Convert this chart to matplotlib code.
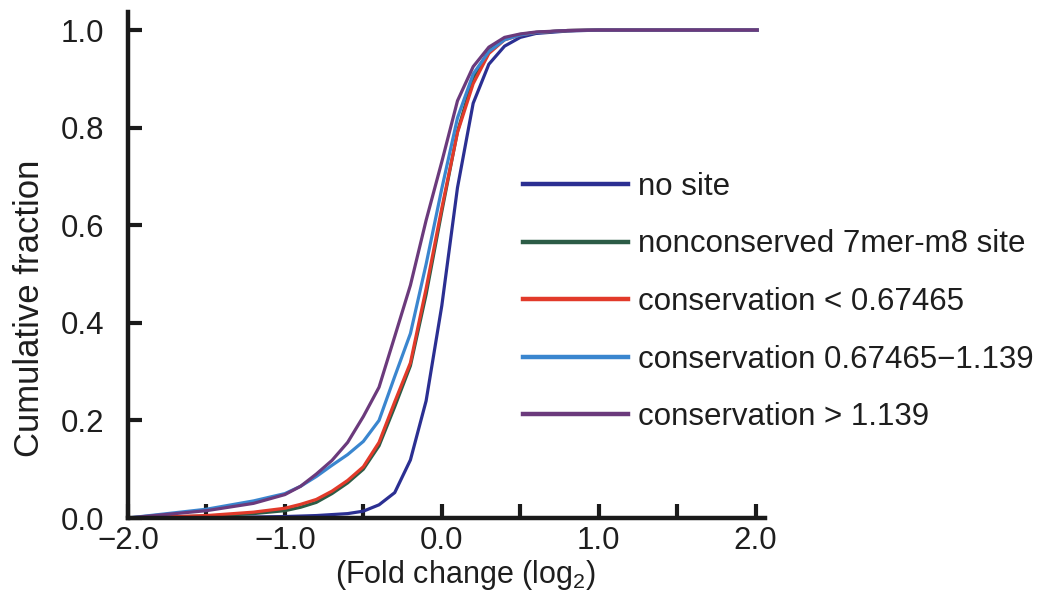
import matplotlib
matplotlib.use("Agg")
import matplotlib.pyplot as plt

x_vals = [-2.0, -1.5, -1.2, -1.0, -0.9, -0.8, -0.7, -0.6, -0.5, -0.4, -0.3, -0.2,
          -0.1, 0.0, 0.1, 0.2, 0.3, 0.4, 0.5, 0.6, 0.8, 1.0, 1.5, 2.01]

no_site = [0.0, 0.001, 0.002, 0.003, 0.004, 0.005, 0.007, 0.009, 0.014, 0.027, 0.052, 0.119,
           0.24, 0.435, 0.677, 0.85, 0.93, 0.967, 0.985, 0.993, 0.998, 1.0, 1.0, 1.0]
nonconserved = [0.0, 0.004, 0.009, 0.015, 0.022, 0.032, 0.05, 0.072, 0.1, 0.148, 0.228, 0.312,
                0.458, 0.628, 0.792, 0.902, 0.958, 0.982, 0.991, 0.995, 0.999, 1.0, 1.0, 1.0]
cons_low = [0.0, 0.005, 0.012, 0.02, 0.028, 0.038, 0.055, 0.077, 0.105, 0.155, 0.238, 0.318,
            0.47, 0.635, 0.79, 0.89, 0.952, 0.98, 0.99, 0.995, 0.999, 1.0, 1.0, 1.0]
cons_mid = [0.0, 0.018, 0.035, 0.05, 0.065, 0.085, 0.108, 0.13, 0.157, 0.2, 0.29, 0.378,
            0.52, 0.675, 0.82, 0.91, 0.956, 0.98, 0.99, 0.995, 0.999, 1.0, 1.0, 1.0]
cons_high = [0.0, 0.015, 0.03, 0.048, 0.065, 0.09, 0.118, 0.155, 0.208, 0.268, 0.372, 0.477,
             0.61, 0.73, 0.855, 0.925, 0.965, 0.985, 0.992, 0.996, 0.999, 1.0, 1.0, 1.0]

labels = ["no site", "nonconserved 7mer-m8 site", "conservation < 0.67465",
          "conservation 0.67465\u22121.139", "conservation > 1.139"]
series = [no_site, nonconserved, cons_low, cons_mid, cons_high]
colors = ["#2b2f92", "#2c5c46", "#e23a2a", "#3a86cf", "#6b3a7c"]

xticks = [-2.0, -1.0, 0.0, 1.0, 2.0]
xminor = [-1.5, -0.5, 0.5, 1.5]
yticks = [0.0, 0.2, 0.4, 0.6, 0.8, 1.0]

plt.rcParams["font.family"] = ["Liberation Sans", "DejaVu Sans"]
plt.rcParams["mathtext.fontset"] = "custom"
plt.rcParams["mathtext.rm"] = "Liberation Sans"
plt.rcParams["mathtext.it"] = "Liberation Sans"

fig = plt.figure(figsize=(10.42, 6.01), dpi=100)
ax = fig.add_axes([128/1042, 1 - 518/601, (765-128)/1042, (518-12)/601])

for ys, c, lab in zip(series, colors, labels):
    ax.plot(x_vals, ys, color=c, lw=2.3, label=lab, solid_joinstyle="round")

ax.set_xlim(-2.0, 2.06)
ax.set_ylim(0, 1.037)
for s in ["top", "right"]:
    ax.spines[s].set_visible(False)
for s in ["left", "bottom"]:
    ax.spines[s].set_linewidth(3.2)
    ax.spines[s].set_color("#1a1a1a")
ax.set_xticks(xticks)
ax.set_xticks(xminor, minor=True)
ax.set_yticks(yticks)
ax.set_xticklabels([f"{v:.1f}".replace("-", "\u2212") for v in xticks])
ax.set_yticklabels([f"{v:.1f}" for v in yticks])
ax.tick_params(axis="both", which="both", direction="in", length=10, width=3,
               color="#1a1a1a", labelsize=22.5, labelcolor="#1e1e1e")
ax.tick_params(axis="x", pad=6)
ax.tick_params(axis="y", pad=17)

ax.set_xlabel("(Fold change (log$_2$)", fontsize=22, color="#1e1e1e")
ax.xaxis.set_label_coords((465-128)/(765-128), (518-558)/(518-12))
ax.set_ylabel("Cumulative fraction", fontsize=25, color="#1e1e1e")
ax.yaxis.set_label_coords((46-128)/(765-128), (518-308)/(518-12))

leg = fig.legend(loc="upper left", bbox_to_anchor=(523/1042, 1 - 172/601),
                 frameon=False, fontsize=22.5, handlelength=3.36, handletextpad=0.32,
                 labelspacing=0.88, borderpad=0, borderaxespad=0)
for t in leg.get_texts():
    t.set_color("#1e1e1e")
for h in leg.get_lines():
    h.set_linewidth(3.2)

fig.savefig("out.png", dpi=100)
